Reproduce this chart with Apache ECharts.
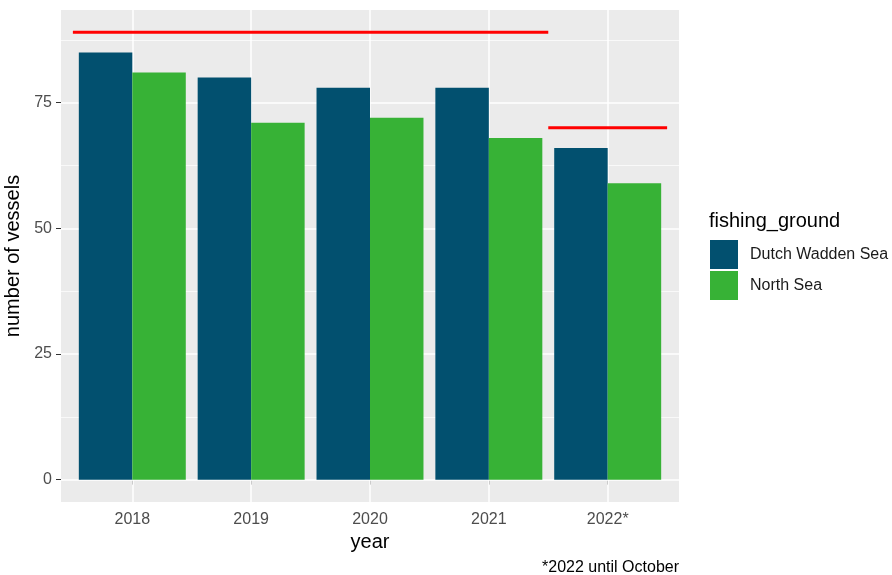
<!DOCTYPE html>
<html>
<head>
<meta charset="utf-8">
<script src="https://cdn.jsdelivr.net/npm/echarts@6/dist/echarts.min.js"></script>
<style>html,body{margin:0;padding:0;background:#fff}#c{width:892px;height:575px}</style>
</head>
<body>
<div id="c"></div>
<script>
// ---- data ----
const years = ['2018', '2019', '2020', '2021', '2022*'];
const dutchWaddenSea = [85, 80, 78, 78, 66];
const northSea = [81, 71, 72, 68, 59];
const refLines = [
  { first: '2018', last: '2021', value: 89 },
  { first: '2022*', last: '2022*', value: 70 }
];
const yTicks = [0, 25, 50, 75];
const yMinorTicks = [12.5, 37.5, 62.5, 87.5];

const FONT = 'Liberation Sans, Arial, sans-serif';
const xPos = years.map((y, i) => i + 1);
const dataMax = Math.max(...dutchWaddenSea, ...northSea, ...refLines.map(r => r.value));
const expand = dataMax * 0.05;

const gridLineSeries = {
  type: 'line', data: [], z: 1, silent: true,
  markLine: {
    silent: true, symbol: 'none', label: { show: false },
    animation: false, z: 1,
    data: [
      ...yMinorTicks.map(v => ({ yAxis: v, lineStyle: { color: '#fff', width: 0.7, type: 'solid' } })),
      ...yTicks.map(v => ({ yAxis: v, lineStyle: { color: '#fff', width: 1.5, type: 'solid' } })),
      ...xPos.map(v => ({ xAxis: v, lineStyle: { color: '#fff', width: 1.5, type: 'solid' } }))
    ]
  }
};

const refSeries = refLines.map(r => ({
  type: 'line', z: 6, silent: true, symbol: 'none',
  lineStyle: { color: '#FF0000', width: 3 },
  data: [[years.indexOf(r.first) + 1 - 0.5, r.value], [years.indexOf(r.last) + 1 + 0.5, r.value]]
}));

const chart = echarts.init(document.getElementById('c'), null, { renderer: 'canvas' });
chart.setOption({
  animation: false,
  textStyle: { fontFamily: FONT },
  title: [
    { text: 'fishing_ground', left: 709, top: 211, textStyle: { fontFamily: FONT, fontSize: 20, fontWeight: 'normal', color: '#000' }, padding: 0 },
    { text: '*2022 until October', right: 213, top: 560, textStyle: { fontFamily: FONT, fontSize: 16, fontWeight: 'normal', color: '#000' }, padding: 0 }
  ],
  legend: {
    data: ['Dutch Wadden Sea', 'North Sea'],
    orient: 'vertical', left: 710, top: 240, padding: 0,
    itemWidth: 28, itemHeight: 29, itemGap: 2, icon: 'rect',
    textStyle: { fontFamily: FONT, fontSize: 16, color: '#1a1a1a', padding: [0, 0, 0, 7] }
  },
  grid: {
    left: 61, right: 213, top: 10, bottom: 73,
    show: true, backgroundColor: '#EBEBEB', borderWidth: 0,
    containLabel: false, outerBoundsMode: 'none'
  },
  xAxis: {
    type: 'value', min: 0.4, max: 5.6,
    axisLine: { show: false },
    axisTick: { show: true, customValues: xPos, length: 5, lineStyle: { color: '#333', width: 1 } },
    axisLabel: { customValues: xPos, formatter: v => years[Math.round(v) - 1], color: '#4D4D4D', fontSize: 16, margin: 10, fontFamily: FONT },
    splitLine: { show: false },
    name: 'year', nameLocation: 'middle', nameGap: 25,
    nameTextStyle: { fontSize: 20, color: '#000', fontFamily: FONT }
  },
  yAxis: {
    type: 'value', min: -expand, max: dataMax + expand,
    axisLine: { show: false },
    axisTick: { show: true, customValues: yTicks, length: 5, lineStyle: { color: '#333', width: 1 } },
    axisLabel: { customValues: yTicks, color: '#4D4D4D', fontSize: 16, margin: 9, fontFamily: FONT },
    splitLine: { show: false },
    name: 'number of vessels', nameLocation: 'middle', nameGap: 29,
    nameTextStyle: { fontSize: 20, color: '#000', fontFamily: FONT }
  },
  series: [
    gridLineSeries,
    {
      name: 'Dutch Wadden Sea', type: 'bar', z: 3,
      barGap: '0%', barCategoryGap: '10%',
      itemStyle: { color: '#02506F' },
      data: dutchWaddenSea.map((v, i) => [xPos[i], v])
    },
    {
      name: 'North Sea', type: 'bar', z: 3,
      barGap: '0%', barCategoryGap: '10%',
      itemStyle: { color: '#37B236' },
      data: northSea.map((v, i) => [xPos[i], v])
    },
    ...refSeries
  ]
});
</script>
</body>
</html>
